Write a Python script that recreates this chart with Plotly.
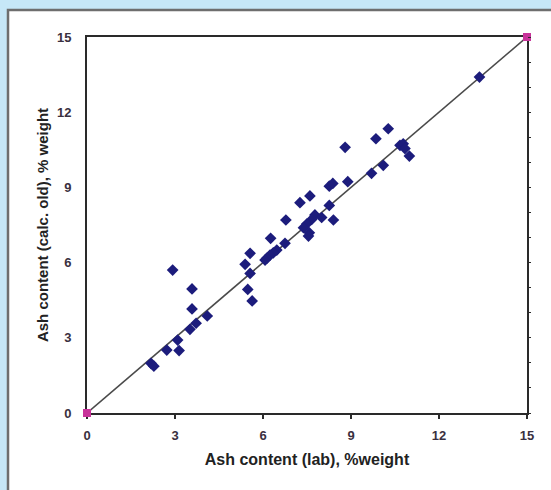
import plotly.graph_objects as go

# Laboratory ash content vs. calculated (old method), % weight
ash_lab = [13.38, 10.27, 9.85, 8.80, 10.67, 10.78, 10.84, 10.99, 10.10, 9.70,
           8.89, 8.26, 8.38, 7.60, 7.26, 8.26, 6.78, 8.40, 7.77, 8.00,
           7.66, 7.49, 7.38, 7.58, 7.55, 6.26, 6.75, 6.47, 6.35, 6.24,
           6.13, 6.07, 5.56, 5.39, 5.56, 5.48, 5.63, 2.92, 3.58, 3.58,
           4.10, 3.72, 3.51, 3.09, 3.14, 2.72, 2.18, 2.28]
ash_calc = [13.40, 11.34, 10.94, 10.60, 10.68, 10.74, 10.55, 10.25, 9.88, 9.56,
            9.23, 9.05, 9.16, 8.66, 8.39, 8.28, 7.70, 7.70, 7.90, 7.80,
            7.72, 7.54, 7.39, 7.19, 7.06, 6.97, 6.77, 6.50, 6.39, 6.30,
            6.17, 6.10, 6.37, 5.93, 5.57, 4.93, 4.47, 5.70, 4.95, 4.15,
            3.87, 3.58, 3.34, 2.91, 2.49, 2.51, 1.98, 1.87]

# 1:1 reference line
ref_x = [0, 15]
ref_y = [0, 15]

tick_vals = [0, 3, 6, 9, 12, 15]
tick_text = ["0", "3", "6", "9", "12", "15"]

fig = go.Figure()

fig.add_trace(go.Scatter(
    x=ref_x, y=ref_y, mode="lines+markers", cliponaxis=False,
    line=dict(color="#4a4a4a", width=1.6),
    marker=dict(symbol="square", size=8, color="#c8339a"),
    hoverinfo="skip", showlegend=False,
))

fig.add_trace(go.Scatter(
    x=ash_lab, y=ash_calc, mode="markers",
    marker=dict(symbol="diamond", size=9, color="#1c1c7c"),
    showlegend=False,
))

# carrier trace for the right-hand minor tick axis
fig.add_trace(go.Scatter(x=[None], y=[None], yaxis="y2", showlegend=False,
                         hoverinfo="skip"))

tick_font = dict(family="Liberation Sans, Arial, sans-serif", size=13, color="#3a3040",
                 weight="bold")
xtitle_font = dict(family="Liberation Sans, Arial, sans-serif", size=16, color="#222222")
ytitle_font = dict(family="Liberation Sans, Arial, sans-serif", size=15, color="#222222")

fig.update_layout(
    width=551, height=490,
    margin=dict(l=87, r=24, t=37, b=77),
    paper_bgcolor="#c6e7f7",
    plot_bgcolor="#ffffff",
    xaxis=dict(
        range=[0, 15], tickvals=tick_vals, ticktext=tick_text,
        showgrid=False, zeroline=False, layer="below traces",
        showline=True, linecolor="#2a2a2a", linewidth=1.8, mirror=True,
        ticks="outside", ticklen=4, tickcolor="#2a2a2a", tickwidth=1.5,
        tickfont=tick_font, ticklabelstandoff=5,
        title=dict(text="<b>Ash content (lab), %weight</b>", font=xtitle_font, standoff=12),
    ),
    yaxis=dict(
        range=[0, 15], tickvals=tick_vals, ticktext=tick_text,
        showgrid=False, zeroline=False, layer="below traces",
        showline=True, linecolor="#2a2a2a", linewidth=1.8, mirror=True,
        ticks="", tickfont=tick_font, ticklabelstandoff=11,
        title=dict(text="<b>Ash content (calc. old), % weight</b>", font=ytitle_font, standoff=5),
    ),
    yaxis2=dict(
        range=[0, 15], overlaying="y", side="right", dtick=1,
        showgrid=False, zeroline=False, showline=False, showticklabels=False,
        ticks="outside", ticklen=3, tickcolor="#2a2a2a", tickwidth=1.2,
    ),
    shapes=[dict(
        type="rect", xref="paper", yref="paper", layer="below",
        x0=(8 - 87) / 440, x1=(560 - 87) / 440,
        y0=(413 - 500) / 376, y1=(413 - 10) / 376,
        fillcolor="#ffffff", line=dict(color="#6e6e6e", width=2.5),
    )],
)

fig.write_html("out.html")
